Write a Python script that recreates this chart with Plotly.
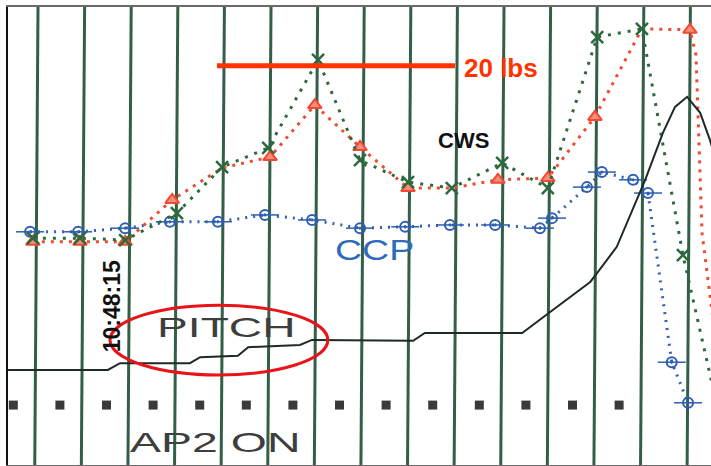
import plotly.graph_objects as go

# Time axis in seconds (one vertical grid line per second)
seconds = list(range(15))

# CWS force, green trace (x markers)
cws_g_t = [-0.11, 0.90, 1.87, 2.98, 3.95, 4.94, 6.01, 6.91, 7.94, 8.88, 9.96, 10.94, 12.00, 12.96, 13.84, 14.85]
cws_g_v = [49.3, 49.3, 48.9, 54.8, 64.9, 69.1, 88.4, 66.4, 61.6, 60.3, 65.8, 60.3, 93.4, 95.2, 45.6, 0.0]

# CWS force, red trace (triangle markers)
cws_r_t = [-0.11, 0.90, 1.87, 2.88, 3.95, 4.98, 5.94, 6.91, 7.94, 8.88, 9.87, 10.94, 11.95, 12.96, 13.99, 14.12, 14.25, 14.46, 14.74]
cws_r_v = [48.5, 48.5, 48.5, 57.7, 64.7, 67.1, 78.5, 69.3, 60.3, 60.3, 62.1, 62.5, 75.9, 95.2, 95.0, 89.5, 50.4, 33.6, 9.4]
cws_r_mark = [1, 1, 1, 1, 0, 1, 1, 1, 1, 0, 1, 1, 1, 0, 1, 0, 0, 0, 0]

# CCP position, blue trace
ccp_t = [-0.17, 0.86, 1.87, 2.83, 3.86, 4.87, 5.88, 6.91, 7.88, 8.84, 9.81, 10.77, 11.03, 11.78, 12.10, 12.77, 13.09, 13.60, 13.95]
ccp_v = [50.7, 50.7, 51.5, 52.9, 52.9, 54.4, 53.3, 51.5, 51.8, 52.2, 52.2, 51.5, 53.7, 60.5, 63.8, 62.1, 59.2, 22.1, 13.2]

# Pitch attitude, black trace
pitch_t = [-0.70, 1.50, 1.76, 3.26, 3.48, 4.29, 4.51, 5.62, 5.88, 8.05, 8.30, 10.39, 10.99, 11.85, 12.00,
           12.42, 13.03, 13.41, 13.67, 13.93, 14.21, 14.42, 14.74]
pitch_v = [20.4, 20.4, 21.9, 21.9, 23.2, 23.5, 25.4, 25.9, 27.0, 26.8, 28.5, 28.5, 33.1, 39.7, 41.7,
           47.4, 62.1, 72.4, 78.1, 80.3, 76.8, 70.8, 59.9]

# AP2 engaged discrete (one sample per second)
ap2_t = [k - 0.53 for k in range(14)]
ap2_v = [12.7] * 14

GRID = "#335f47"
GREEN = "#2b6a3d"
RED = "#f04a30"
BLUE = "#2f5fb0"

fig = go.Figure()

fig.add_trace(go.Scatter(
    x=ccp_t, y=ccp_v, mode="lines",
    line=dict(color=BLUE, width=3, dash="2px,6px"), hoverinfo="skip"))
fig.add_trace(go.Scatter(
    x=ccp_t, y=ccp_v, mode="markers",
    marker=dict(symbol="line-ew", size=20, line=dict(color=BLUE, width=1.5)), hoverinfo="skip"))
fig.add_trace(go.Scatter(
    x=ccp_t, y=ccp_v, mode="markers",
    marker=dict(symbol="circle-open-dot", size=10, color=BLUE, line=dict(color=BLUE, width=2)),
    hoverinfo="skip"))

fig.add_trace(go.Scatter(
    x=cws_r_t, y=cws_r_v, mode="lines",
    line=dict(color=RED, width=3, dash="3px,6px"), hoverinfo="skip"))
fig.add_trace(go.Scatter(
    x=[t for t, m in zip(cws_r_t, cws_r_mark) if m], y=[v for v, m in zip(cws_r_v, cws_r_mark) if m],
    mode="markers", marker=dict(symbol="triangle-up", size=12, color="#f58c7c", line=dict(color=RED, width=2)),
    hoverinfo="skip"))

fig.add_trace(go.Scatter(
    x=cws_g_t, y=cws_g_v, mode="lines",
    line=dict(color=GREEN, width=3, dash="3px,7px"), hoverinfo="skip"))
fig.add_trace(go.Scatter(
    x=cws_g_t[:-1], y=cws_g_v[:-1], mode="markers",
    marker=dict(symbol="x-thin", size=12, line=dict(color=GREEN, width=2.5)), hoverinfo="skip"))

fig.add_trace(go.Scatter(
    x=pitch_t, y=pitch_v, mode="lines",
    line=dict(color="#1e2a24", width=2), hoverinfo="skip"))

fig.add_trace(go.Scatter(
    x=ap2_t, y=ap2_v, mode="markers",
    marker=dict(symbol="square", size=9, color="#3a3a3a"), hoverinfo="skip"))

# one-second grid lines, slightly tilted like the paper trace
shapes = []
for s in seconds:
    shapes.append(dict(type="line", xref="x", yref="y", x0=s - 0.07, y0=-0.44, x1=s, y1=100,
                       line=dict(color=GRID, width=3), layer="below"))
# 20 lbs scale bar
shapes.append(dict(type="line", xref="x", yref="y", x0=3.84, y0=87.1, x1=8.95, y1=87.1,
                   line=dict(color="#ff3300", width=5)))
# highlight around the pitch steps
shapes.append(dict(type="circle", xref="x", yref="y", x0=1.545, y0=19.3, x1=6.22, y1=34.6,
                   line=dict(color="#e8141a", width=3)))

annotations = [
    dict(x=9.10, y=86.6, text="<b>20 lbs</b>", xanchor="left", yanchor="middle",
         font=dict(family="Liberation Sans, Arial", size=26, color="#ff3300")),
    dict(x=8.55, y=70.8, text="<b>CWS</b>", xanchor="left", yanchor="middle",
         font=dict(family="Liberation Sans, Arial", size=22, color="#111")),
    dict(x=6.33, y=46.9, text="CCP", xanchor="left", yanchor="middle",
         font=dict(family="Liberation Sans, Arial", size=30, color="#2f6bb8")),
    dict(x=2.51, y=29.8, text="PITCH", xanchor="left", yanchor="middle",
         font=dict(family="Liberation Sans, Arial", size=28, color="#3e3e3e")),
    dict(x=1.93, y=4.6, text="AP2 ON", xanchor="left", yanchor="middle",
         font=dict(family="Liberation Sans, Arial", size=28, color="#3e3e3e")),
    dict(x=1.59, y=34.4, text="<b>10:48:15</b>", textangle=-90, xanchor="center", yanchor="middle",
         font=dict(family="Liberation Sans, Arial", size=23, color="#111")),
]
for a in annotations:
    a.update(xref="x", yref="y", showarrow=False)

fig.update_layout(
    width=711, height=466,
    margin=dict(l=8, r=0, t=7, b=1),
    paper_bgcolor="white", plot_bgcolor="white",
    showlegend=False,
    shapes=shapes, annotations=annotations,
    xaxis=dict(range=[-0.644, 14.442], showgrid=False, zeroline=False, showticklabels=False,
               ticks="", showline=True, mirror=True, linecolor="#6a6a6a", linewidth=2),
    yaxis=dict(range=[-0.44, 100], showgrid=False, zeroline=False, showticklabels=False,
               ticks="", showline=True, linecolor="#111", linewidth=2),
)

# widen the chart-recorder labels horizontally, keeping their left edge fixed
stretch_js = """
var widths = {"PITCH": 1.65, "AP2 ON": 1.66, "CCP": 1.25};
document.querySelectorAll('.annotation-text').forEach(function (t) {
  var s = widths[t.textContent];
  if (s) {
    t.style.transformBox = 'fill-box';
    t.style.transformOrigin = 'left center';
    t.style.transform = 'scaleX(' + s + ')';
  }
});
"""

fig.write_html("out.html", post_script=stretch_js)
